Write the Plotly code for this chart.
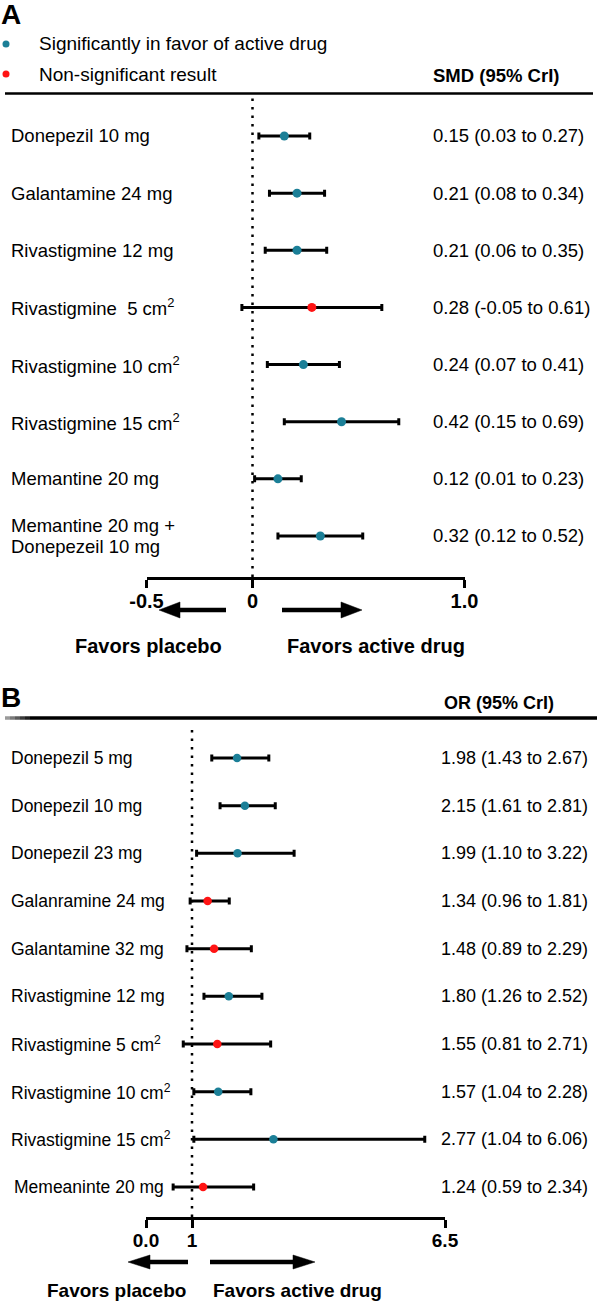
import plotly.graph_objects as go

W, H = 597, 1301
FONT = "Liberation Sans, Arial, sans-serif"
TEAL = "#1b7f97"
RED = "#ff1414"

# ---------------- Data: panel A (SMD) ----------------
a_labels = ["Donepezil 10 mg", "Galantamine 24 mg", "Rivastigmine 12 mg",
            "Rivastigmine\u00a0 5 cm<sup>2</sup>", "Rivastigmine 10 cm<sup>2</sup>",
            "Rivastigmine 15 cm<sup>2</sup>", "Memantine 20 mg",
            "Memantine 20 mg +<br>Donepezeil 10 mg"]
a_est = [0.15, 0.21, 0.21, 0.28, 0.24, 0.42, 0.12, 0.32]
a_lo = [0.03, 0.08, 0.06, -0.05, 0.07, 0.15, 0.01, 0.12]
a_hi = [0.27, 0.34, 0.35, 0.61, 0.41, 0.69, 0.23, 0.52]
a_sig = [True, True, True, False, True, True, True, True]
a_ticks = [-0.5, 0, 1.0]
a_ticktext = ["-0.5", "0", "1.0"]

# ---------------- Data: panel B (OR) ----------------
b_labels = ["Donepezil 5 mg", "Donepezil 10 mg", "Donepezil 23 mg",
            "Galanramine 24 mg", "Galantamine 32 mg", "Rivastigmine 12 mg",
            "Rivastigmine 5 cm<sup>2</sup>", "Rivastigmine 10 cm<sup>2</sup>",
            "Rivastigmine 15 cm<sup>2</sup>", "Memeaninte 20 mg"]
b_est = [1.98, 2.15, 1.99, 1.34, 1.48, 1.80, 1.55, 1.57, 2.77, 1.24]
b_lo = [1.43, 1.61, 1.10, 0.96, 0.89, 1.26, 0.81, 1.04, 1.04, 0.59]
b_hi = [2.67, 2.81, 3.22, 1.81, 2.29, 2.52, 2.71, 2.28, 6.06, 2.34]
b_sig = [True, True, True, False, False, True, False, True, True, False]
b_ticks = [0, 1, 6.5]
b_ticktext = ["0.0", "1", "6.5"]

legend_labels = ["Significantly in favor of active drug", "Non-significant result"]


def px(x):
    return x / W


def py(y):
    return 1 - y / H


def fmt(e, l, h):
    return f"{e:.2f} ({l:.2f} to {h:.2f})"


# ---------------- geometry (pixels) ----------------
A_X0, A_X1 = 146.5, 464.5
A_TOP, A_BOT = 98, 577
A_ROW0, A_STEP = 136, 57.14
B_X0, B_X1 = 146, 445
B_TOP, B_BOT = 725, 1217
B_ROW0, B_STEP = 758, 47.67

a_rows = list(range(len(a_labels)))
b_rows = list(range(len(b_labels)))

fig = go.Figure()

fig.add_trace(go.Scatter(
    x=a_est, y=a_rows, mode="markers", xaxis="x", yaxis="y",
    marker=dict(size=9, color=[TEAL if s else RED for s in a_sig], line=dict(width=0)),
    error_x=dict(type="data", symmetric=False,
                 array=[h - e for h, e in zip(a_hi, a_est)],
                 arrayminus=[e - l for e, l in zip(a_est, a_lo)],
                 color="black", thickness=3, width=3.5),
    showlegend=False, cliponaxis=False, hoverinfo="skip"))

fig.add_trace(go.Scatter(
    x=b_est, y=b_rows, mode="markers", xaxis="x2", yaxis="y2",
    marker=dict(size=8.5, color=[TEAL if s else RED for s in b_sig], line=dict(width=0)),
    error_x=dict(type="data", symmetric=False,
                 array=[h - e for h, e in zip(b_hi, b_est)],
                 arrayminus=[e - l for e, l in zip(b_est, b_lo)],
                 color="black", thickness=3, width=3.5),
    showlegend=False, cliponaxis=False, hoverinfo="skip"))


def yrange(top, bot, row0, step):
    return [(bot - row0) / step, (top - row0) / step]


axis_common = dict(showgrid=False, zeroline=False, showline=True, linecolor="black",
                   linewidth=2.5, ticks="outside", ticklen=8, tickwidth=2.5,
                   tickcolor="black", fixedrange=True, automargin=False,
                   ticklabelstandoff=-4)

fig.update_layout(
    template="none",
    width=W, height=H, margin=dict(l=0, r=0, t=0, b=0, pad=0, autoexpand=False),
    autosize=False, showlegend=False,
    paper_bgcolor="white", plot_bgcolor="rgba(0,0,0,0)",
    font=dict(family=FONT, color="black"),
    xaxis=dict(domain=[px(A_X0), px(A_X1)], range=[-0.5, 1.0], anchor="y",
               tickvals=a_ticks, ticktext=a_ticktext,
               tickfont=dict(family=FONT, size=20, color="black", weight="bold"),
               **axis_common),
    yaxis=dict(domain=[py(A_BOT), py(A_TOP)], range=yrange(A_TOP, A_BOT, A_ROW0, A_STEP),
               visible=False, anchor="x", fixedrange=True, automargin=False),
    xaxis2=dict(domain=[px(B_X0), px(B_X1)], range=[0, 6.5], anchor="y2",
                tickvals=b_ticks, ticktext=b_ticktext,
                tickfont=dict(family=FONT, size=19, color="black", weight="bold"),
                **axis_common),
    yaxis2=dict(domain=[py(B_BOT), py(B_TOP)], range=yrange(B_TOP, B_BOT, B_ROW0, B_STEP),
                visible=False, anchor="x2", fixedrange=True, automargin=False),
)

shapes = []
shapes.append(dict(type="line", xref="x", yref="y domain", x0=0, x1=0, y0=0, y1=1,
                   line=dict(color="black", width=2.5, dash="2.5px,6px")))
shapes.append(dict(type="line", xref="x2", yref="y2 domain", x0=1, x1=1, y0=0, y1=1,
                   line=dict(color="black", width=2.5, dash="2.5px,6px")))
shapes.append(dict(type="line", xref="paper", yref="paper", x0=px(5), x1=px(593),
                   y0=py(93.5), y1=py(93.5), line=dict(color="black", width=2.5)))
shapes.append(dict(type="line", xref="paper", yref="paper", x0=px(30), x1=px(597),
                   y0=py(718), y1=py(718), line=dict(color="black", width=3.5)))
grad = ["#9a9a9a", "#7a7a7a", "#5a5a5a", "#3a3a3a", "#1e1e1e"]
for i, c in enumerate(grad):
    shapes.append(dict(type="line", xref="paper", yref="paper", x0=px(5 + 5 * i),
                       x1=px(10 + 5 * i), y0=py(718), y1=py(718),
                       line=dict(color=c, width=3.5)))


def arrow(x_tail, x_tip, y, head_len, head_half, shaft):
    d = 1 if x_tip > x_tail else -1
    base = x_tip - d * head_len
    out = [dict(type="line", xref="paper", yref="paper", x0=px(x_tail), x1=px(base + d * 1),
                y0=py(y), y1=py(y), line=dict(color="black", width=shaft))]
    path = (f"M{px(x_tip)},{py(y)} L{px(base)},{py(y - head_half)} "
            f"L{px(base)},{py(y + head_half)} Z")
    out.append(dict(type="path", xref="paper", yref="paper", path=path,
                    fillcolor="black", line=dict(color="black", width=0.5)))
    return out


shapes += arrow(226, 159, 610, 21, 8, 4.5)
shapes += arrow(282, 362, 610, 21, 8, 4.5)
shapes += arrow(188, 128, 1262, 22, 7, 4.5)
shapes += arrow(210, 315, 1262, 22, 7, 4.5)

for yy, c in [(44, TEAL), (74, RED)]:
    shapes.append(dict(type="circle", xref="paper", yref="paper",
                       x0=px(2.5), x1=px(9.5), y0=py(yy + 3.5), y1=py(yy - 3.5),
                       fillcolor=c, line=dict(width=0)))

fig.update_layout(shapes=shapes)

ann = []


def text(x, y, t, size, bold=False, anchor="left", xref="paper", yref="paper", yshift=0):
    ann.append(dict(x=x, y=y, xref=xref, yref=yref, text=t, showarrow=False,
                    xanchor=anchor, yanchor="middle", yshift=yshift, borderpad=0,
                    font=dict(family=FONT, size=size, color="black",
                              weight="bold" if bold else "normal")))


text(px(0), py(15), "A", 28, bold=True)
text(px(0), py(697), "B", 28, bold=True)
for yy, t in zip([44, 74], legend_labels):
    text(px(38), py(yy), t, 19)
text(px(432), py(75), "SMD (95% CrI)", 18.5, bold=True)
text(px(443), py(703), "OR (95% CrI)", 18, bold=True)

for i, lab in enumerate(a_labels):
    if "<br>" in lab:
        l1, l2 = lab.split("<br>")
        text(px(10), i, l1, 18.5, yref="y", yshift=10.5)
        text(px(10), i, l2, 18.5, yref="y", yshift=-10.5)
    else:
        text(px(10), i, lab, 18.5, yref="y")
    text(px(432), i, fmt(a_est[i], a_lo[i], a_hi[i]), 18.5, yref="y")

for i, lab in enumerate(b_labels):
    xl = 13 if lab.startswith("Memeaninte") else 10
    text(px(xl), i, lab, 17.5, yref="y2")
    text(px(440), i, fmt(b_est[i], b_lo[i], b_hi[i]), 18, yref="y2")

text(px(148), py(646), "Favors placebo", 20, bold=True, anchor="center")
text(px(376), py(646), "Favors active drug", 20, bold=True, anchor="center")
text(px(116), py(1290), "Favors placebo", 19, bold=True, anchor="center")
text(px(297), py(1290), "Favors active drug", 19, bold=True, anchor="center")

fig.update_layout(annotations=ann)

fig.write_html("out.html",
               config={"displayModeBar": False, "responsive": False},
               post_script="document.body.style.margin='0';"
                           "document.body.style.overflow='hidden';")
